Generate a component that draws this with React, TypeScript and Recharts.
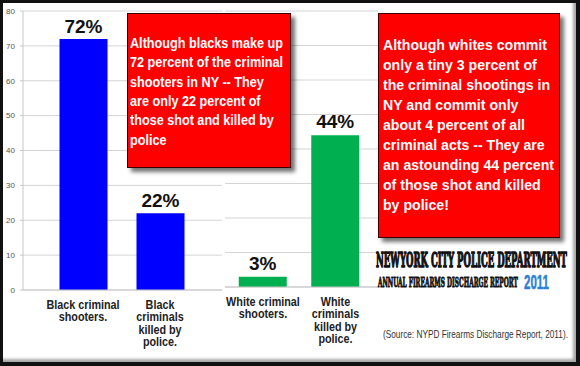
import React from "react";
import { BarChart, Bar, XAxis, YAxis, CartesianGrid, LabelList } from "recharts";

const blackCategories = ["Black criminal\nshooters.", "Black\ncriminals\nkilled by\npolice."];
const blackValues = [72, 22];
const whiteCategories = ["White criminal\nshooters.", "White\ncriminals\nkilled by\npolice."];
const whiteValues = [3, 44];
const yTicks = [0, 10, 20, 30, 40, 50, 60, 70, 80];

const blackNoteLines = [
  "Although blacks make up",
  "72 percent of the criminal",
  "shooters in NY -- They",
  "are only 22 percent of",
  "those shot and killed by",
  "police",
];
const whiteNoteLines = [
  "Although whites commit",
  "only a tiny 3 percent of",
  "the criminal shootings in",
  "NY and commit only",
  "about 4 percent of all",
  "criminal acts -- They are",
  "an astounding 44 percent",
  "of those shot and killed",
  "by police!",
];
const deptTitle = "NEWYORK CITY POLICE DEPARTMENT";
const reportTitle = "ANNUAL FIREARMS DISCHARGE REPORT";
const reportYear = "2011";
const sourceText = "(Source: NYPD Firearms Discharge Report, 2011).";

const blackData = blackCategories.map((c, i) => ({ name: c, value: blackValues[i] }));
const whiteData = whiteCategories.map((c, i) => ({ name: c, value: whiteValues[i] }));

const SANS = "'Liberation Sans', Arial, sans-serif";
const SERIF = "'DejaVu Serif Condensed', 'DejaVu Serif', serif";

let ctx: CanvasRenderingContext2D | null = null;
const measure = (text: string, font: string): number => {
  if (!ctx) ctx = document.createElement("canvas").getContext("2d");
  if (!ctx) return text.length * 8;
  ctx.font = font;
  return ctx.measureText(text).width || text.length * 8;
};

const CatTick = (props: any) => {
  const { x, y, payload } = props;
  const lines = String(payload.value).split("\n");
  return (
    <g transform={`translate(${x},${y}) scale(0.9,1)`}>
      <text x={0} y={0} textAnchor="middle" fontFamily={SANS} fontWeight="bold" fontSize={12} fill="#222">
        {lines.map((l, i) => (
          <tspan key={i} x={0} dy={i === 0 ? 19 : 12.4}>
            {l}
          </tspan>
        ))}
      </text>
    </g>
  );
};

const pct = (v: any) => `${v}%`;

const FitText = (p: {
  text: string;
  x: number;
  y: number;
  width: number;
  size: number;
  family: string;
  weight?: string;
  fill: string;
  stroke?: number;
}) => {
  const w = measure(p.text, `${p.weight || "normal"} ${p.size}px ${p.family}`);
  const s = p.width / w;
  return (
    <g transform={`translate(${p.x},${p.y}) scale(${s},1)`}>
      <text
        x={0}
        y={0}
        fontFamily={p.family}
        fontWeight={p.weight || "normal"}
        fontSize={p.size}
        fill={p.fill}
        stroke={p.stroke ? p.fill : undefined}
        strokeWidth={p.stroke}
      >
        {p.text}
      </text>
    </g>
  );
};

const Note = (p: {
  lines: string[];
  left: number;
  top: number;
  w: number;
  h: number;
  firstCenter: number;
  lh: number;
  textLeft: number;
  refLine: number;
  refWidth: number;
}) => {
  const font = `bold 15px ${SANS}`;
  const s = p.refWidth / measure(p.lines[p.refLine], font);
  return (
    <>
      <div
        style={{
          position: "absolute",
          left: p.left,
          top: p.top,
          width: p.w,
          height: p.h,
          boxSizing: "border-box",
          background: "#ff0000",
          border: "1px solid #3a0000",
          boxShadow: "4px 4px 4px rgba(0,0,0,0.55)",
        }}
      />
      {p.lines.map((l, i) => (
        <div
          key={i}
          style={{
            position: "absolute",
            left: p.textLeft,
            top: p.firstCenter + i * p.lh - 10,
            height: 20,
            lineHeight: "20px",
            whiteSpace: "nowrap",
            color: "#ffffff",
            fontFamily: SANS,
            fontWeight: "bold",
            fontSize: 15,
            transform: `scale(${s},1)`,
            transformOrigin: "0 0",
          }}
        >
          {l}
        </div>
      ))}
    </>
  );
};

export default function App() {
  return (
    <div
      style={{
        position: "absolute",
        left: 0,
        top: 0,
        width: 580,
        height: 366,
        background: "#ffffff",
        overflow: "hidden",
      }}
    >
      <div style={{ position: "absolute", left: 0, top: 0 }}>
        <BarChart
          width={230}
          height={366}
          data={blackData}
          margin={{ top: 11, right: 8, bottom: 16, left: 0 }}
        >
          <CartesianGrid vertical={false} stroke="#d4d4d4" />
          <YAxis
            domain={[0, 80]}
            ticks={yTicks}
            width={23}
            tickSize={3}
            tickMargin={5}
            tick={{ fontSize: 8, fill: "#555", fontFamily: SANS }}
            axisLine={{ stroke: "#c8c8c8" }}
            tickLine={{ stroke: "#c8c8c8" }}
          />
          <XAxis
            dataKey="name"
            height={60}
            padding={{ left: 21.5, right: 23.5 }}
            tickSize={0}
            tickMargin={0}
            tick={<CatTick />}
            axisLine={{ stroke: "#c8c8c8" }}
            tickLine={false}
            interval={0}
          />
          <Bar dataKey="value" fill="#0000ff" barSize={48} isAnimationActive={false}>
            <LabelList
              dataKey="value"
              position="top"
              offset={6}
              formatter={pct}
              style={{ fontSize: 19, fontWeight: "bold", fill: "#111", fontFamily: SANS }}
            />
          </Bar>
        </BarChart>
      </div>

      <div style={{ position: "absolute", left: 200, top: 0 }}>
        <BarChart
          width={190}
          height={366}
          data={whiteData}
          margin={{ top: 11, right: 12, bottom: 19, left: 25 }}
        >
          <CartesianGrid vertical={false} stroke="#d4d4d4" />
          <YAxis domain={[0, 80]} ticks={yTicks} hide />
          <XAxis
            dataKey="name"
            height={60}
            padding={{ left: 1.75, right: 6.25 }}
            tickSize={0}
            tickMargin={0}
            tick={<CatTick />}
            axisLine={{ stroke: "#c8c8c8" }}
            tickLine={false}
            interval={0}
          />
          <Bar dataKey="value" fill="#00b050" barSize={48} isAnimationActive={false}>
            <LabelList
              dataKey="value"
              position="top"
              offset={7}
              formatter={pct}
              style={{ fontSize: 19, fontWeight: "bold", fill: "#111", fontFamily: SANS }}
            />
          </Bar>
        </BarChart>
      </div>

      <Note
        lines={blackNoteLines}
        left={127}
        top={13}
        w={164}
        h={155}
        firstCenter={43}
        lh={19.3}
        textLeft={130}
        refLine={0}
        refWidth={153}
      />
      <Note
        lines={whiteNoteLines}
        left={378}
        top={13}
        w={182}
        h={225}
        firstCenter={45}
        lh={20}
        textLeft={383}
        refLine={6}
        refWidth={171}
      />

      <svg style={{ position: "absolute", left: 0, top: 0 }} width={580} height={366}>
        <FitText text={deptTitle} x={376} y={267} width={191} size={21} family={SERIF} weight="bold" fill="#111" stroke={1.4} />
        <FitText text={reportTitle} x={378} y={287} width={140} size={13.5} family={SERIF} weight="bold" fill="#111" stroke={0.9} />
        <FitText text={reportYear} x={524} y={289} width={25} size={21} family={SANS} weight="bold" fill="#2f7fd4" stroke={0.5} />
        <FitText text={sourceText} x={383} y={338} width={185} size={11} family={SANS} fill="#333" />
      </svg>

      <div
        style={{
          position: "absolute",
          left: 0,
          top: 0,
          width: 580,
          height: 366,
          boxSizing: "border-box",
          borderTop: "3px solid #111",
          borderLeft: "3px solid #111",
          borderRight: "4px solid #111",
          borderBottom: "4px solid #111",
          boxShadow: "inset -3px -3px 3px rgba(0,0,0,0.35)",
          pointerEvents: "none",
        }}
      />
    </div>
  );
}
